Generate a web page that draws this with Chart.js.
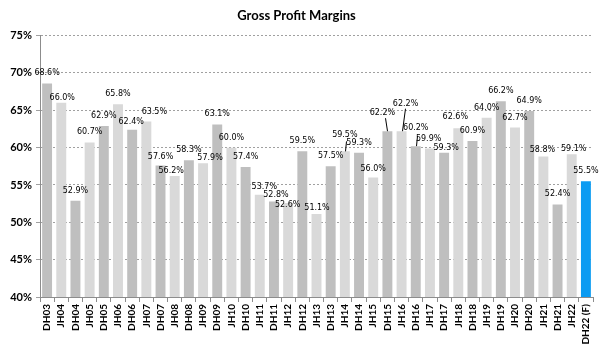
<!DOCTYPE html>
<html>
<head>
<meta charset="utf-8">
<script src="https://cdn.jsdelivr.net/npm/chart.js@4/dist/chart.umd.min.js"></script>
<style>
  html, body { margin: 0; padding: 0; background: #ffffff; }
  #wrap { width: 603px; height: 348px; }
</style>
</head>
<body>
<div id="wrap"><canvas id="c" width="603" height="348"></canvas></div>
<script>
// Half-year periods (JH = June half, DH = December half, (F) = forecast)
const categories = [
  'DH03', 'JH04', 'DH04', 'JH05', 'DH05', 'JH06', 'DH06', 'JH07', 'DH07', 'JH08',
  'DH08', 'JH09', 'DH09', 'JH10', 'DH10', 'JH11', 'DH11', 'JH12', 'DH12', 'JH13',
  'DH13', 'JH14', 'DH14', 'JH15', 'DH15', 'JH16', 'DH16', 'JH17', 'DH17', 'JH18',
  'DH18', 'JH19', 'DH19', 'JH20', 'DH20', 'JH21', 'DH21', 'JH22', 'DH22 (F)'
];

// Gross profit margin, percent
const margins = [
  68.6, 66.0, 52.9, 60.7, 62.9, 65.8, 62.4, 63.5, 57.6, 56.2,
  58.3, 57.9, 63.1, 60.0, 57.4, 53.7, 52.8, 52.6, 59.5, 51.1,
  57.5, 59.5, 59.3, 56.0, 62.2, 62.2, 60.2, 59.9, 59.3, 62.6,
  60.9, 64.0, 66.2, 62.7, 64.9, 58.8, 52.4, 59.1, 55.5
];

// Value axis ticks, percent
const yTicks = [40, 45, 50, 55, 60, 65, 70, 75];

const COLOR_DH = '#bfbfbf';
const COLOR_JH = '#d9d9d9';
const COLOR_FORECAST = '#0b9bf2';

const barColors = categories.map(c =>
  c.includes('(F)') ? COLOR_FORECAST : (c.startsWith('DH') ? COLOR_DH : COLOR_JH));

// Small nudges for value labels that would otherwise collide (pixels),
// with optional leader lines [startDx, startDy] from the label to the bar top.
const labelNudge = {
  1: { dx: 1, dy: 5 },
  6: { dx: -1, dy: 2 },
  7: { dx: 8, dy: 0 },
  8: { dy: 1 },
  9: { dx: -3.5, dy: 5 },
  11: { dx: 7, dy: 5 },
  12: { dy: -1 },
  15: { dx: 4.5, dy: 2 },
  16: { dx: 2, dy: 4 },
  17: { dx: -0.5, dy: 12 },
  19: { dx: 0.5, dy: 4 },
  21: { dy: -6, lead: [1, 6] },
  23: { dy: 1 },
  24: { dx: -5, dy: -8, lead: [3, 5] },
  25: { dx: 4, dy: -17.5, lead: [-1, 5] },
  26: { dy: -8, lead: [1, 8] },
  27: { dx: -1.3, dy: 1 },
  28: { dx: 2, dy: 5 },
  29: { dx: -3, dy: -1 },
  35: { dx: -1, dy: 3 },
  37: { dx: 2, dy: 5 }
};

const valueLabels = {
  id: 'valueLabels',
  afterDatasetsDraw(chart, args, opts) {
    const ctx = chart.ctx;
    const meta = chart.getDatasetMeta(0);
    ctx.save();
    ctx.font = opts.font;
    ctx.fillStyle = opts.color;
    ctx.strokeStyle = opts.color;
    ctx.lineWidth = 1;
    ctx.textAlign = 'center';
    ctx.textBaseline = 'middle';
    meta.data.forEach((bar, i) => {
      const n = labelNudge[i] || {};
      const x = bar.x + (n.dx || 0);
      const y = bar.y - opts.gap + (n.dy || 0);
      if (n.lead) {
        ctx.beginPath();
        ctx.moveTo(Math.round(x + n.lead[0]) + 0.5, y + n.lead[1]);
        ctx.lineTo(Math.round(bar.x) + 0.5, bar.y);
        ctx.stroke();
      }
      ctx.fillText(margins[i].toFixed(1) + '%', x, y);
    });
    ctx.restore();
  }
};

const AXIS_FONT = "'Lato', 'Liberation Sans', sans-serif";

new Chart(document.getElementById('c'), {
  type: 'bar',
  data: {
    labels: categories,
    datasets: [{
      data: margins,
      backgroundColor: barColors,
      borderWidth: 0,
      barPercentage: 0.7,
      categoryPercentage: 1.0
    }]
  },
  options: {
    responsive: false,
    animation: false,
    devicePixelRatio: 1,
    layout: { padding: { left: 0, right: 10, top: 0, bottom: 0 } },
    plugins: {
      legend: { display: false },
      tooltip: { enabled: false },
      title: {
        display: true,
        text: 'Gross Profit Margins',
        color: '#000000',
        font: { family: AXIS_FONT, size: 13, weight: 'bold' },
        padding: { top: 8, bottom: 12 }
      },
      valueLabels: {
        font: "8px 'DejaVu Sans', Verdana, sans-serif",
        color: '#000000',
        gap: 10
      }
    },
    scales: {
      x: {
        grid: {
          display: true,
          drawOnChartArea: false,
          drawTicks: true,
          tickLength: 5,
          color: '#8c8c8c',
          offset: true
        },
        border: { display: true, color: '#8c8c8c', width: 1 },
        ticks: {
          autoSkip: false,
          maxRotation: 90,
          minRotation: 90,
          padding: 2,
          color: '#000000',
          font: { family: AXIS_FONT, size: 10, weight: 'bold' }
        },
        afterFit(scale) { scale.height = 51; }
      },
      y: {
        min: yTicks[0],
        max: yTicks[yTicks.length - 1],
        afterBuildTicks(scale) { scale.ticks = yTicks.map(v => ({ value: v })); },
        ticks: {
          callback: v => v + '%',
          padding: 4,
          color: '#000000',
          font: { family: AXIS_FONT, size: 11, weight: 'bold' }
        },
        grid: {
          color: '#a0a0a0',
          drawTicks: true,
          tickLength: 4
        },
        border: { display: true, color: '#8c8c8c', width: 1, dash: [2, 2] },
        afterFit(scale) { scale.width = 40; }
      }
    }
  },
  plugins: [valueLabels]
});
</script>
</body>
</html>
